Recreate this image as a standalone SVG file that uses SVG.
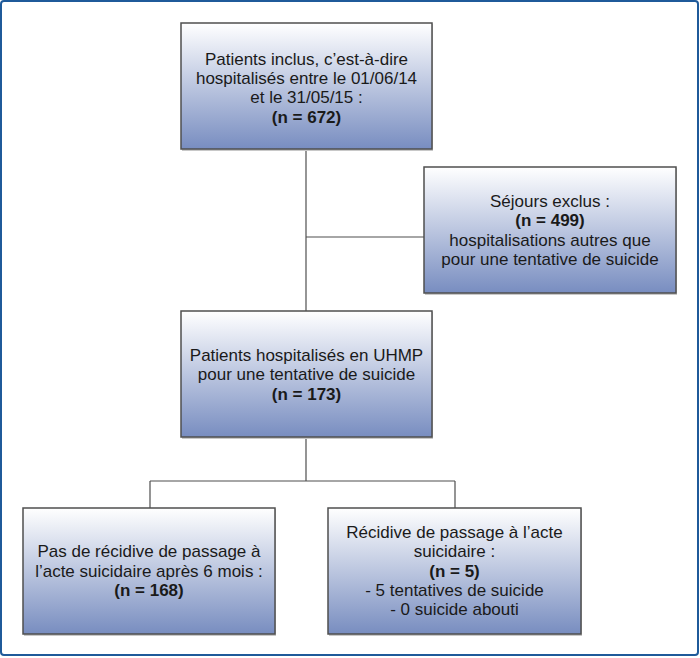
<svg xmlns="http://www.w3.org/2000/svg" width="700" height="658" viewBox="0 0 700 658">
<defs>
<linearGradient id="g" x1="0" y1="0" x2="0" y2="1">
<stop offset="0" stop-color="#ffffff"/>
<stop offset="1" stop-color="#788dc0"/>
</linearGradient>
<style>
.box{fill:url(#g);stroke:#4f4f4f;stroke-width:1.5}
.sh{fill:#c8c8c8}
.t{font-family:"Liberation Sans",Arial,sans-serif;font-size:17px;fill:#1a1a1a;text-anchor:middle}
.b{font-weight:bold}
.c{fill:none;stroke:#4f4f4f;stroke-width:1.2}
</style>
</defs>
<rect width="700" height="658" fill="#ffffff"/>
<rect x="1" y="1" width="697" height="654" rx="3" fill="none" stroke="#1f5a9a" stroke-width="2"/>
<g id="connectors">
<path class="c" d="M306 149 V311"/>
<path class="c" d="M306 237 H424"/>
<path class="c" d="M306 437 V481 M150 481 H455 M150 481 V508 M455 481 V508"/>
</g>
<g id="n1">
<rect class="sh" x="182" y="24" width="251" height="127"/>
<rect class="box" x="181" y="23" width="251" height="126"/>
<text class="t" x="306.5" y="65">Patients inclus, c’est-à-dire</text>
<text class="t" x="306.5" y="84">hospitalisés entre le 01/06/14</text>
<text class="t" x="306.5" y="103">et le 31/05/15 :</text>
<text class="t b" x="306.5" y="123">(n = 672)</text>
</g>
<g id="n2">
<rect class="sh" x="425" y="168" width="252" height="127"/>
<rect class="box" x="424" y="167" width="252" height="126"/>
<text class="t" x="550" y="207">Séjours exclus :</text>
<text class="t b" x="550" y="226">(n = 499)</text>
<text class="t" x="550" y="246">hospitalisations autres que</text>
<text class="t" x="550" y="265">pour une tentative de suicide</text>
</g>
<g id="n3">
<rect class="sh" x="182" y="312" width="251" height="127"/>
<rect class="box" x="181" y="311" width="251" height="126"/>
<text class="t" x="306.5" y="361">Patients hospitalisés en UHMP</text>
<text class="t" x="306.5" y="380">pour une tentative de suicide</text>
<text class="t b" x="306.5" y="400">(n = 173)</text>
</g>
<g id="n4">
<rect class="sh" x="24" y="509" width="252" height="127"/>
<rect class="box" x="23" y="508" width="252" height="126"/>
<text class="t" x="149" y="557">Pas de récidive de passage à</text>
<text class="t" x="149" y="577">l’acte suicidaire après 6 mois :</text>
<text class="t b" x="149" y="596">(n = 168)</text>
</g>
<g id="n5">
<rect class="sh" x="329" y="509" width="253" height="127"/>
<rect class="box" x="328" y="508" width="253" height="126"/>
<text class="t" x="454.5" y="538">Récidive de passage à l’acte</text>
<text class="t" x="454.5" y="557">suicidaire :</text>
<text class="t b" x="454.5" y="577">(n = 5)</text>
<text class="t" x="454.5" y="596">- 5 tentatives de suicide</text>
<text class="t" x="454.5" y="615">- 0 suicide abouti</text>
</g>
</svg>
